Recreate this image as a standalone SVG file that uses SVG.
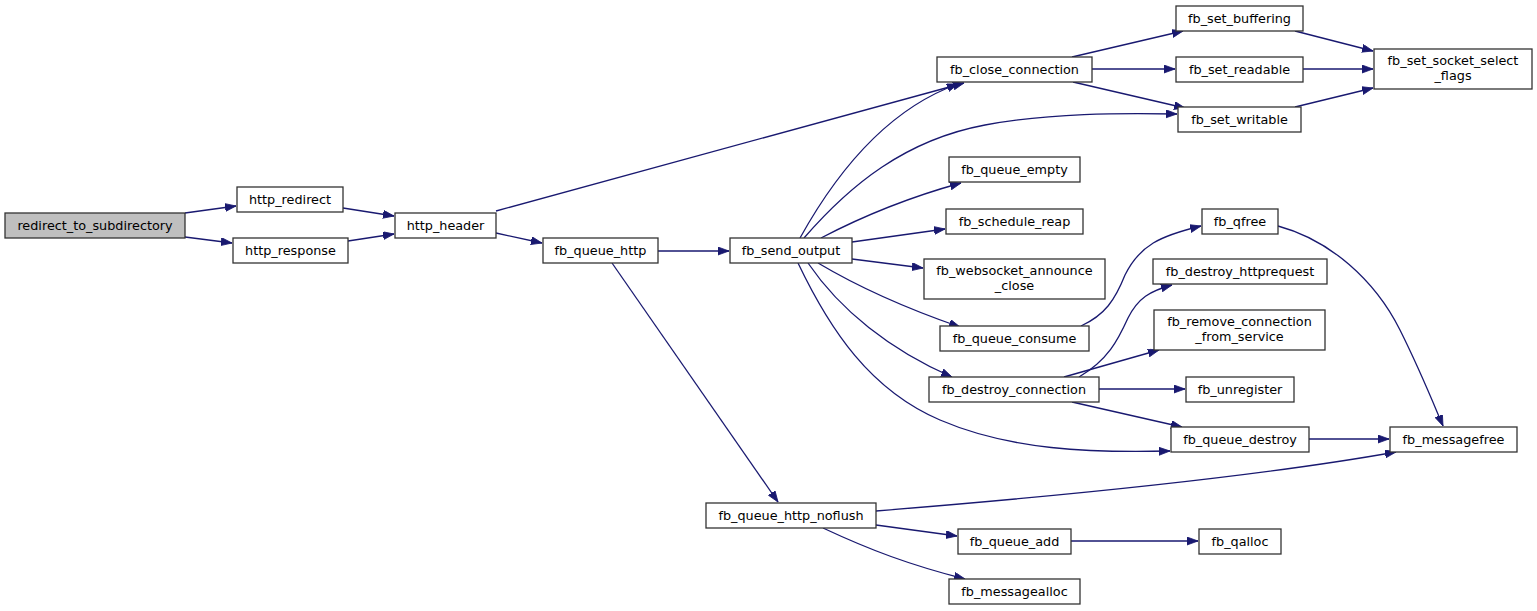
<svg xmlns="http://www.w3.org/2000/svg" width="1537" height="611" viewBox="0 0 1537 611">
<style>
.n rect{fill:#ffffff;stroke:#333333;stroke-width:1.3}
.root rect{fill:#bfbfbf}
text{font-family:"DejaVu Sans","Liberation Sans",sans-serif;font-size:12.8px;fill:#000;text-anchor:middle}
.e path{fill:none;stroke:#191970;stroke-width:1.3;marker-end:url(#ah)}
</style>
<defs>
<marker id="ah" markerUnits="userSpaceOnUse" markerWidth="12" markerHeight="9" refX="11" refY="4" orient="auto">
<path d="M0,0 L11,4 L0,8 z" fill="#191970" stroke="#191970" stroke-width="0.8"/>
</marker>
</defs>
<rect width="1537" height="611" fill="#ffffff"/>
<g id="edges" class="e">
<path d="M185,213 L236,206"/>
<path d="M185,237 L232,243"/>
<path d="M343,208 L394,216"/>
<path d="M348,241 L394,234"/>
<path d="M496,211 L964,83"/>
<path d="M496,233 L542,243"/>
<path d="M658,251 L729,251"/>
<path d="M612,263 L778,502"/>
<path d="M800,238 C835,175 885,110 958,84"/>
<path d="M804,238 C850,185 905,140 985,125 C1050,113 1120,113 1177,114"/>
<path d="M821,238 C865,215 910,197 961,183"/>
<path d="M852,242 L945,229"/>
<path d="M852,259 L923,268"/>
<path d="M818,263 C855,285 905,308 960,327"/>
<path d="M808,263 C840,310 890,350 952,377"/>
<path d="M798,263 C830,330 870,390 940,420 C1010,450 1090,453 1170,451"/>
<path d="M1072,57 L1183,31"/>
<path d="M1092,69 L1175,69"/>
<path d="M1073,82 L1185,108"/>
<path d="M1295,31 L1373,51"/>
<path d="M1303,69 L1373,69"/>
<path d="M1295,107 L1373,88"/>
<path d="M1081,326 C1105,315 1115,300 1125,275 C1140,245 1160,236 1201,226"/>
<path d="M1079,377 C1108,360 1118,340 1128,318 C1138,298 1150,291 1172,285"/>
<path d="M1064,377 L1159,350"/>
<path d="M1099,389 L1185,389"/>
<path d="M1072,402 L1182,427"/>
<path d="M1309,439 L1389,439"/>
<path d="M1278,226 C1330,240 1375,280 1400,330 C1420,370 1432,400 1443,426"/>
<path d="M876,511 C1050,497 1250,478 1396,452"/>
<path d="M876,525 L957,536"/>
<path d="M1071,541 L1198,541"/>
<path d="M823,528 C870,550 910,565 965,579"/>
</g>
<g id="redirect_to_subdirectory" class="n root"><rect x="5" y="213" width="180" height="25"/><text x="95" y="230">redirect_to_subdirectory</text></g>
<g id="http_redirect" class="n"><rect x="237" y="187" width="106" height="25"/><text x="290" y="204">http_redirect</text></g>
<g id="http_response" class="n"><rect x="233" y="238" width="115" height="25"/><text x="290.5" y="255">http_response</text></g>
<g id="http_header" class="n"><rect x="395" y="213" width="101" height="25"/><text x="445.5" y="230">http_header</text></g>
<g id="fb_queue_http" class="n"><rect x="543" y="238" width="115" height="25"/><text x="600.5" y="255">fb_queue_http</text></g>
<g id="fb_send_output" class="n"><rect x="730" y="238" width="122" height="25"/><text x="791" y="255">fb_send_output</text></g>
<g id="fb_close_connection" class="n"><rect x="937" y="57" width="155" height="25"/><text x="1014.5" y="74">fb_close_connection</text></g>
<g id="fb_set_buffering" class="n"><rect x="1176" y="6" width="127" height="25"/><text x="1239.5" y="23">fb_set_buffering</text></g>
<g id="fb_set_readable" class="n"><rect x="1176" y="57" width="127" height="25"/><text x="1239.5" y="74">fb_set_readable</text></g>
<g id="fb_set_writable" class="n"><rect x="1178" y="107" width="123" height="25"/><text x="1239.5" y="124">fb_set_writable</text></g>
<g id="fb_set_socket_select_flags" class="n"><rect x="1374" y="49" width="158" height="40"/><text x="1453" y="65">fb_set_socket_select</text><text x="1453" y="80">_flags</text></g>
<g id="fb_queue_empty" class="n"><rect x="949" y="157" width="131" height="25"/><text x="1014.5" y="174">fb_queue_empty</text></g>
<g id="fb_schedule_reap" class="n"><rect x="946" y="209" width="137" height="25"/><text x="1014.5" y="226">fb_schedule_reap</text></g>
<g id="fb_websocket_announce_close" class="n"><rect x="924" y="259" width="181" height="40"/><text x="1014.5" y="275">fb_websocket_announce</text><text x="1014.5" y="290">_close</text></g>
<g id="fb_queue_consume" class="n"><rect x="940" y="326" width="149" height="25"/><text x="1014.5" y="343">fb_queue_consume</text></g>
<g id="fb_destroy_connection" class="n"><rect x="929" y="377" width="170" height="25"/><text x="1014" y="394">fb_destroy_connection</text></g>
<g id="fb_qfree" class="n"><rect x="1202" y="209" width="76" height="25"/><text x="1240" y="226">fb_qfree</text></g>
<g id="fb_destroy_httprequest" class="n"><rect x="1153" y="259" width="174" height="25"/><text x="1240" y="276">fb_destroy_httprequest</text></g>
<g id="fb_remove_connection_from_service" class="n"><rect x="1154" y="310" width="171" height="40"/><text x="1239.5" y="326">fb_remove_connection</text><text x="1239.5" y="341">_from_service</text></g>
<g id="fb_unregister" class="n"><rect x="1186" y="377" width="108" height="25"/><text x="1240" y="394">fb_unregister</text></g>
<g id="fb_queue_destroy" class="n"><rect x="1171" y="427" width="138" height="25"/><text x="1240" y="444">fb_queue_destroy</text></g>
<g id="fb_messagefree" class="n"><rect x="1390" y="427" width="127" height="25"/><text x="1453.5" y="444">fb_messagefree</text></g>
<g id="fb_queue_http_noflush" class="n"><rect x="706" y="503" width="170" height="25"/><text x="791" y="520">fb_queue_http_noflush</text></g>
<g id="fb_queue_add" class="n"><rect x="958" y="529" width="113" height="25"/><text x="1014.5" y="546">fb_queue_add</text></g>
<g id="fb_qalloc" class="n"><rect x="1199" y="529" width="82" height="25"/><text x="1240" y="546">fb_qalloc</text></g>
<g id="fb_messagealloc" class="n"><rect x="949" y="579" width="131" height="25"/><text x="1014.5" y="596">fb_messagealloc</text></g>
</svg>
